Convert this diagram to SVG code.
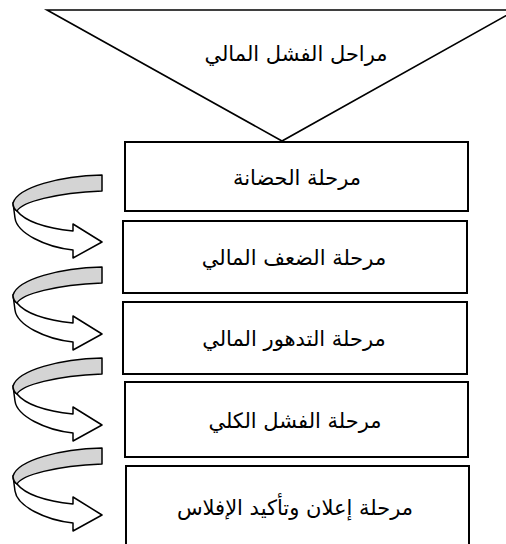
<svg xmlns="http://www.w3.org/2000/svg" width="506" height="544" viewBox="0 0 506 544">
<defs>
<style>
.box{fill:#fff;stroke:#000;stroke-width:2}
.tri{fill:#fff;stroke:#000;stroke-width:1.6}
.lbl{font-family:"DejaVu Sans",sans-serif;font-size:21px;fill:#000;text-anchor:middle;direction:rtl}
.back{fill:#d4d4d4;stroke:#000;stroke-width:1.5;stroke-linejoin:round}
.front{fill:#fff;stroke:#000;stroke-width:1.5;stroke-linejoin:round}
</style>
<g id="spiral">
<path class="front" d="M17,36 C25,46 45,53 73,56 L73,49 L102,67 L73,83 L73,75 C45,72 17,58 15,43 L13,28 C13,31 14,34 17,36 Z"/>
<path class="back" d="M102,0 L102,16 C55,18 22,27 17,36 C14,34 13,31 13,28 C18,12 60,1 102,0 Z"/>
</g>
</defs>
<g id="title">
<polygon class="tri" points="47,10 516,10 282,141"/>
<text class="lbl" x="296" y="61">مراحل الفشل المالي</text>
</g>
<g id="stage1">
<rect class="box" x="125" y="142" width="343" height="69"/>
<text class="lbl" x="297" y="185">مرحلة الحضانة</text>
</g>
<g id="stage2">
<rect class="box" x="123" y="221" width="344" height="72"/>
<text class="lbl" x="294" y="265">مرحلة الضعف المالي</text>
</g>
<g id="stage3">
<rect class="box" x="123" y="302" width="344" height="72"/>
<text class="lbl" x="294" y="346">مرحلة التدهور المالي</text>
</g>
<g id="stage4">
<rect class="box" x="125" y="382" width="343" height="75"/>
<text class="lbl" x="295" y="428">مرحلة الفشل الكلي</text>
</g>
<g id="stage5">
<rect class="box" x="126" y="466" width="343" height="90"/>
<text class="lbl" x="295" y="515">مرحلة إعلان وتأكيد الإفلاس</text>
</g>
<g id="connectors">
<use href="#spiral" x="0" y="175"/>
<use href="#spiral" x="0" y="267"/>
<use href="#spiral" x="0" y="358"/>
<use href="#spiral" x="0" y="448"/>
</g>
</svg>
